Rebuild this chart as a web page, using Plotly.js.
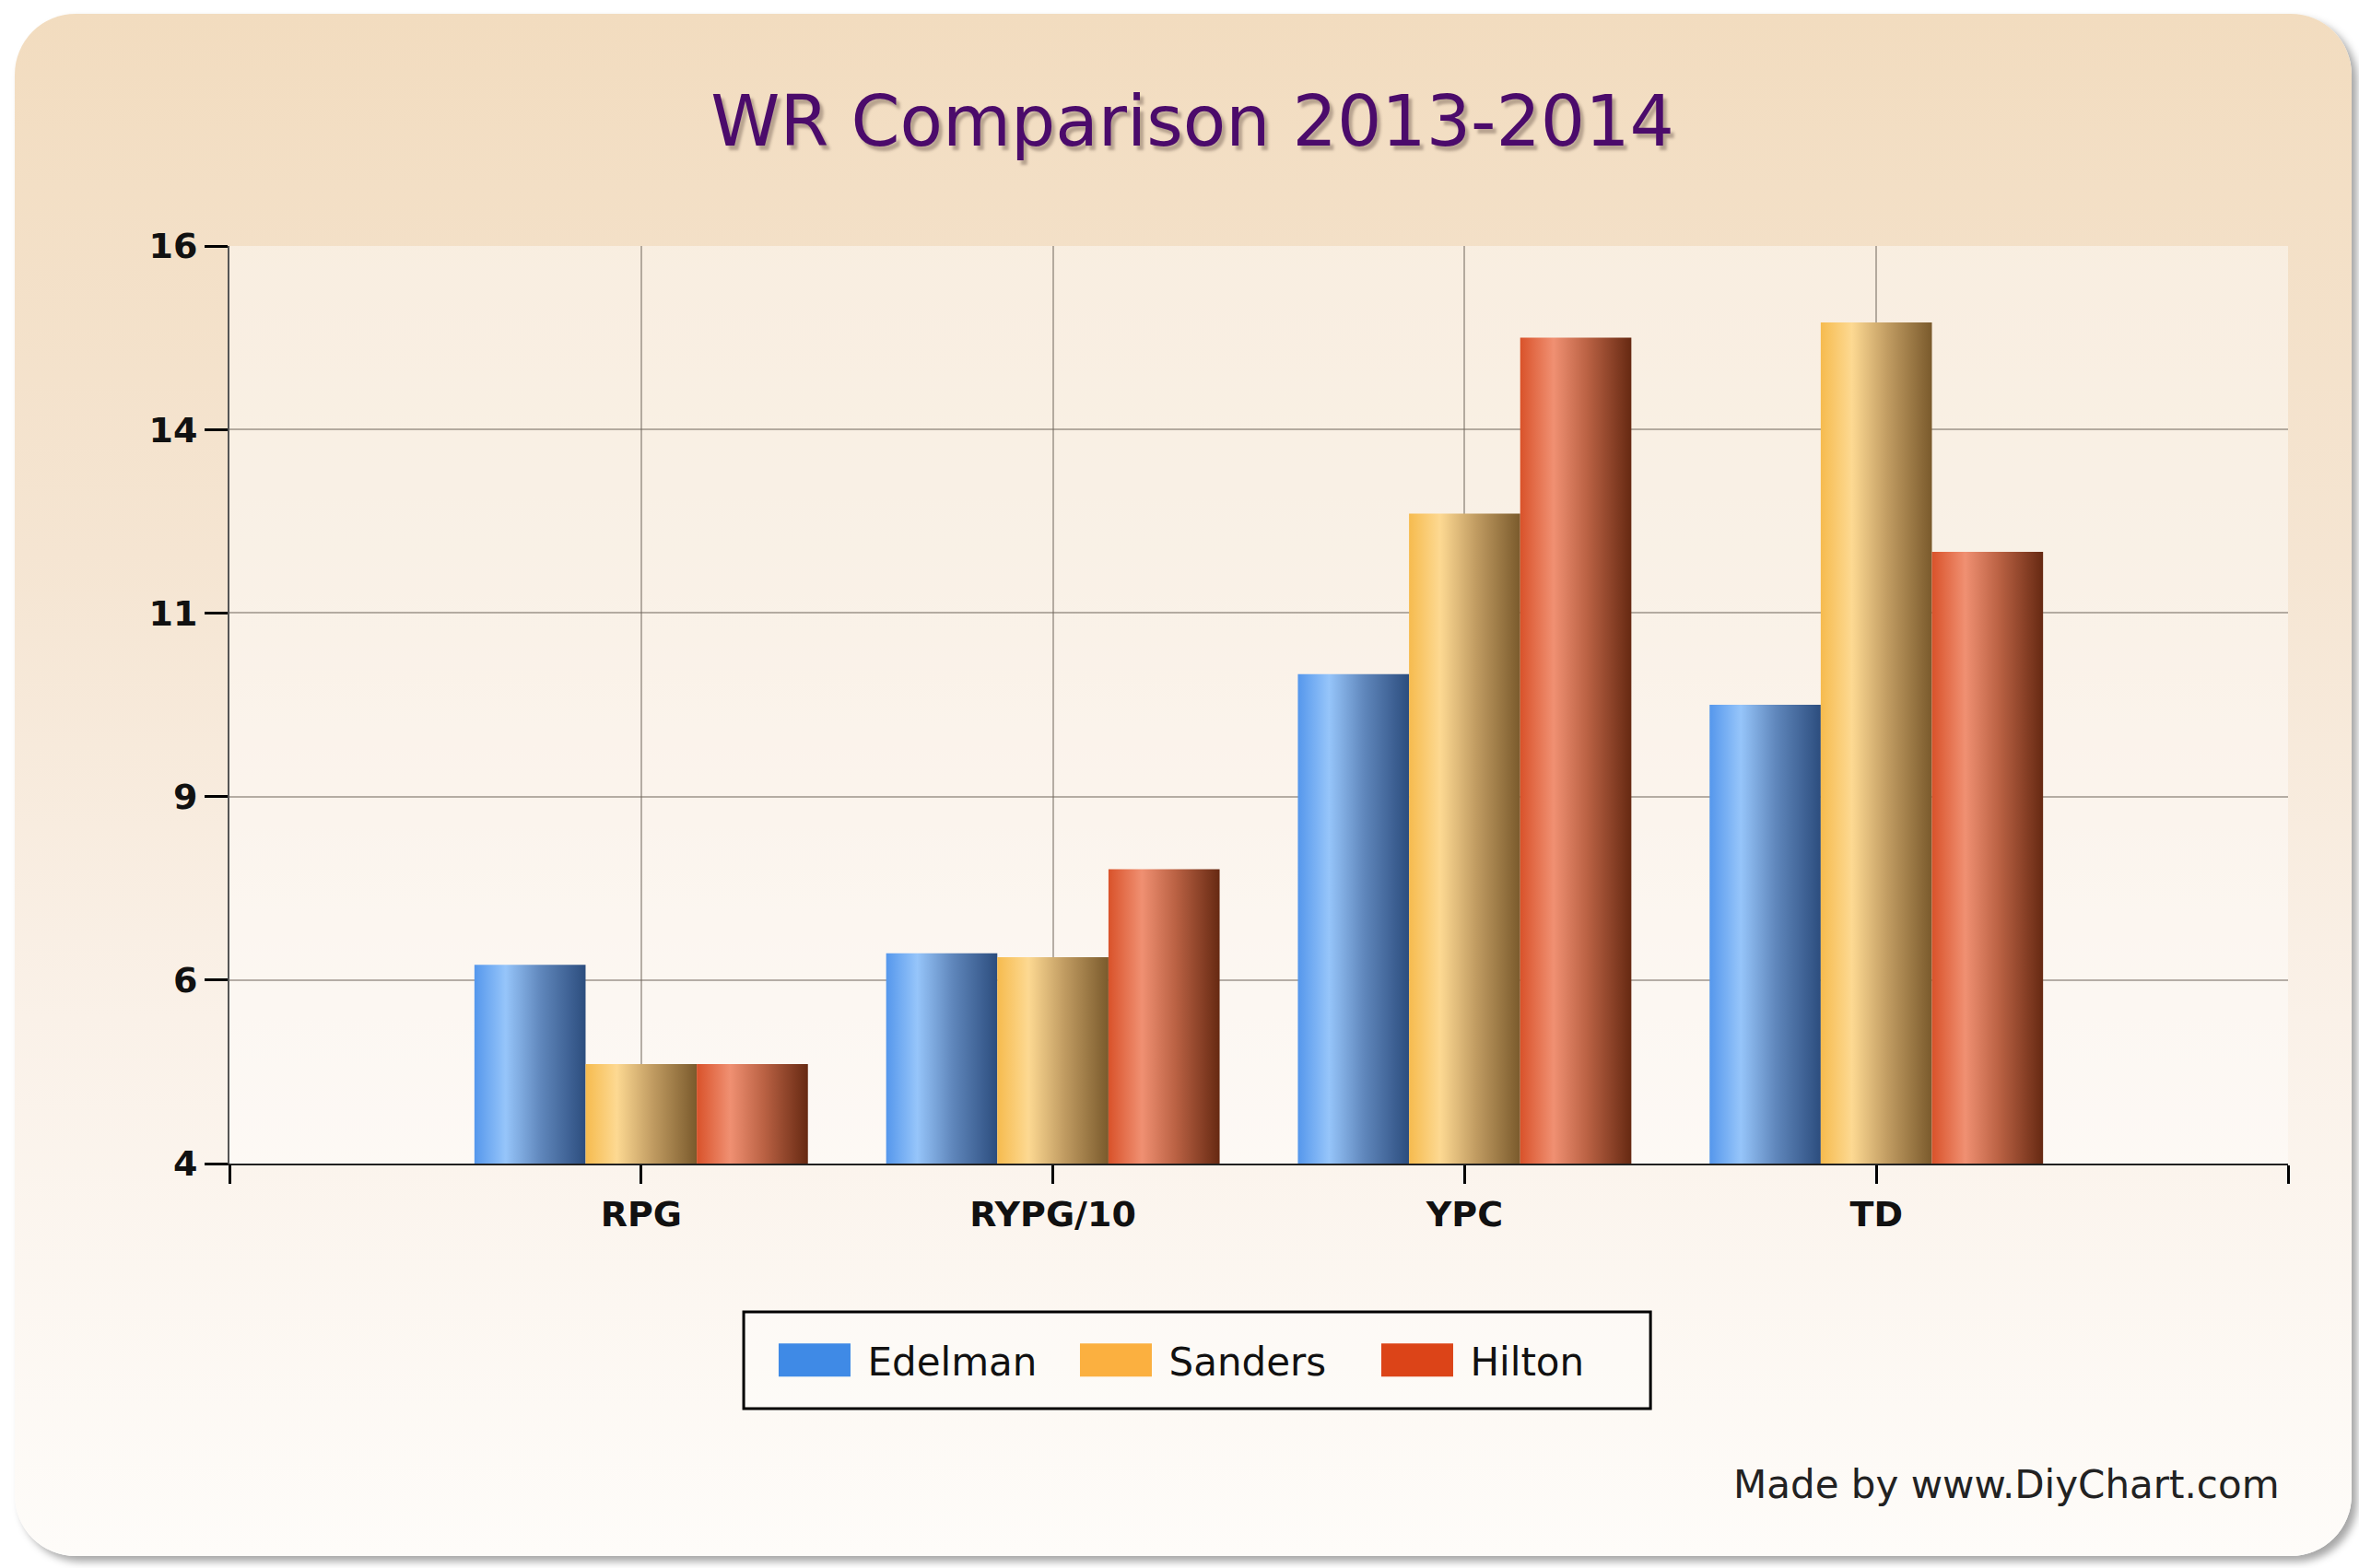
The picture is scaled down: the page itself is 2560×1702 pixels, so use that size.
<!DOCTYPE html>
<html>
<head>
<meta charset="utf-8">
<script src="https://cdn.plot.ly/plotly-3.0.1.min.js"></script>
<style>
  html, body { margin: 0; padding: 0; background: #fff; }
  #card {
    position: absolute; left: 16px; top: 15px; width: 2536px; height: 1674px;
    border-radius: 66px;
    background: linear-gradient(to bottom, #f2dcbf 0%, #f5e5d2 35%, #faf1e8 65%, #fefcf9 100%);
    box-shadow: 6px 6px 8px rgba(0, 0, 0, 0.35);
  }
  #chart { position: absolute; left: 0; top: 0; width: 2560px; height: 1702px; }
</style>
</head>
<body>
<div id="card"></div>
<div id="chart"></div>
<script>
// datos
var categorias = ["RPG", "RYPG/10", "YPC", "TD"];
var jugadores = ["Edelman", "Sanders", "Hilton"];
var valoresEdelman = [6.6, 6.75, 10.4, 10.0];
var valoresSanders = [5.3, 6.7, 12.5, 15.0];
var valoresHilton = [5.3, 7.85, 14.8, 12.0];
var marcasY = [4, 6.4, 8.8, 11.2, 13.6, 16];
var etiquetasY = ["4", "6", "9", "11", "14", "16"];

var colores = ["#3f8ae6", "#fbb040", "#dc4418"];
var valores = [valoresEdelman, valoresSanders, valoresHilton];
var posiciones = categorias.map(function (c, i) { return i; });

var data = jugadores.map(function (nombre, i) {
  return {
    x: posiciones,
    y: valores[i],
    type: "bar",
    name: nombre,
    marker: { color: colores[i], line: { width: 0 } }
  };
});

var fuenteEjes = { family: "DejaVu Sans", size: 38, color: "#111", weight: "bold" };

var layout = {
  width: 2560,
  height: 1702,
  paper_bgcolor: "rgba(0,0,0,0)",
  plot_bgcolor: "rgba(255,255,255,0.45)",
  margin: { l: 249, r: 77, t: 267, b: 439 },
  barmode: "group",
  bargap: 0.19,
  bargroupgap: 0,
  font: { family: "DejaVu Sans", color: "#111" },
  showlegend: true,
  title: {
    text: "WR Comparison 2013-2014",
    x: 0.5055, xanchor: "center",
    y: 0.923, yanchor: "middle",
    font: { family: "DejaVu Sans", size: 76, color: "#4b0b6b", shadow: "4px 5px 3px rgba(110,90,80,0.45)" }
  },
  xaxis: {
    range: [-1, 4],
    tickmode: "array",
    tickvals: [-1].concat(posiciones, [4]),
    ticktext: [""].concat(categorias, [""]),
    ticks: "outside", ticklen: 20, tickwidth: 3, tickcolor: "#000",
    showline: true, linecolor: "#222", linewidth: 2,
    showgrid: true, gridcolor: "rgba(110,100,90,0.5)", gridwidth: 2,
    zeroline: false,
    tickfont: fuenteEjes,
    fixedrange: true
  },
  yaxis: {
    range: [4, 16],
    tickmode: "array",
    tickvals: marcasY,
    ticktext: etiquetasY,
    ticks: "outside", ticklen: 25, tickwidth: 3, tickcolor: "#000",
    showline: true, linecolor: "#555", linewidth: 2,
    showgrid: true, gridcolor: "rgba(110,100,90,0.5)", gridwidth: 2,
    zeroline: false,
    tickfont: fuenteEjes,
    fixedrange: true
  },
  legend: {
    orientation: "h",
    x: 0.47, xanchor: "center",
    y: -0.2143, yanchor: "middle",
    borderwidth: 0,
    bgcolor: "rgba(0,0,0,0)",
    font: { family: "DejaVu Sans", size: 42, color: "#111" },
    itemwidth: 123,
    entrywidth: 189,
    traceorder: "normal"
  },
  // marco de la leyenda
  shapes: [{
    type: "rect", xref: "paper", yref: "paper",
    x0: 0.2498, x1: 0.6903, y0: -0.1616, y1: -0.2671,
    line: { color: "#000", width: 3 },
    fillcolor: "rgba(255,255,255,0.3)",
    layer: "below"
  }],
  annotations: [{
    text: "Made by www.DiyChart.com",
    xref: "paper", yref: "paper",
    x: 0.9969, xanchor: "right",
    y: -0.3504, yanchor: "middle",
    showarrow: false,
    font: { family: "DejaVu Sans", size: 42, color: "#222" }
  }]
};

// degradados tipo cilindro para las barras
var degradados = [
  [["0", "#5597ec"], ["0.28", "#96c5fa"], ["0.6", "#5f86bb"], ["1", "#2c4d7e"]],
  [["0", "#f6bb4e"], ["0.28", "#fdd992"], ["0.6", "#c19c62"], ["1", "#7a5a2c"]],
  [["0", "#d9522a"], ["0.3", "#f09072"], ["0.6", "#bb6244"], ["1", "#662912"]]
];

Plotly.newPlot("chart", data, layout, { staticPlot: true }).then(function (gd) {
  var ns = "http://www.w3.org/2000/svg";
  var svg = gd.querySelector(".main-svg");
  var defs = svg.querySelector("defs");
  degradados.forEach(function (paradas, i) {
    var grad = document.createElementNS(ns, "linearGradient");
    grad.setAttribute("id", "grad" + i);
    grad.setAttribute("x1", "0"); grad.setAttribute("y1", "0");
    grad.setAttribute("x2", "1"); grad.setAttribute("y2", "0");
    paradas.forEach(function (p) {
      var stop = document.createElementNS(ns, "stop");
      stop.setAttribute("offset", p[0]);
      stop.setAttribute("stop-color", p[1]);
      grad.appendChild(stop);
    });
    defs.appendChild(grad);
  });
  gd.querySelectorAll(".barlayer .trace").forEach(function (traza, i) {
    traza.querySelectorAll("path").forEach(function (p) {
      p.style.fill = "url(#grad" + i + ")";
    });
  });
  // cuadros de la leyenda mas grandes
  gd.querySelectorAll(".legendpoints path").forEach(function (p) {
    p.setAttribute("d", "M48,18H-30V-18H48Z");
  });
});
</script>
</body>
</html>
